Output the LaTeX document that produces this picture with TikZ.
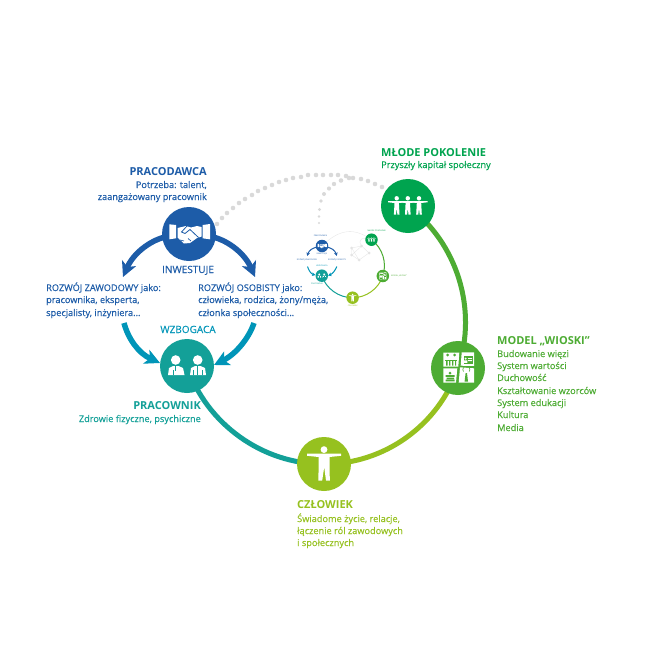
\documentclass[tikz,border=0pt]{standalone}
\usepackage{fontspec}
\setmainfont{Open Sans}
\newfontfamily\semi[FakeBold=0.25]{Open Sans}
\usetikzlibrary{arrows.meta,backgrounds}
\definecolor{cblue}{HTML}{1D5CA8}
\definecolor{ccyan}{HTML}{0095B8}
\definecolor{cteal}{HTML}{13A098}
\definecolor{clime}{HTML}{96C11F}
\definecolor{cgreen}{HTML}{4DAC33}
\definecolor{cdeep}{HTML}{00A44F}
\definecolor{cdot}{HTML}{D9D9D9}
\definecolor{cfaint}{HTML}{E4E4E4}
\tikzset{
 hub/.style={circle,minimum size=54pt,inner sep=0pt,fill=#1},
 minihub/.style={circle,minimum size=12.5pt,inner sep=0pt,fill=#1},
 ring/.style={line width=5pt,draw=#1},
 miniring/.style={line width=1pt,draw=#1},
 big/.style={bend left=36,looseness=.93},
 txt/.style={inner sep=0pt,anchor=base west,font=\semi\fontsize{9.2}{11}\selectfont,text=#1},
 txtr/.style={inner sep=0pt,anchor=base east,font=\semi\fontsize{9.2}{11}\selectfont,text=#1},
 ttl/.style={inner sep=0pt,anchor=base west,font=\fontsize{11}{13}\selectfont\bfseries,text=#1},
 ttlr/.style={inner sep=0pt,anchor=base east,font=\fontsize{11}{13}\selectfont\bfseries,text=#1},
 verb/.style={inner sep=0pt,anchor=base,font=\semi\fontsize{10}{12}\selectfont,text=#1},
 tiny/.style={inner sep=0pt,font=\fontsize{2}{2.4}\selectfont,text=#1},
 flow/.style={line width=5.5pt,draw=#1,-{Stealth[length=15pt,width=15pt,inset=4pt]}},
 miniflow/.style={line width=1pt,draw=#1,-{Stealth[length=3.5pt,width=3.5pt,inset=1pt]}},
 faint/.style={draw=cfaint,line width=.3pt},
}
% icons in picture pixel coordinates; #1 = scale of stroke widths
\newcommand{\iconshake}[1]{
 \fill[white] (169.3,224.3)--(176,225)--(176,238.3)--(169.3,239.3)--cycle;
 \fill[white] (202.7,225)--(210,224)--(210,239.3)--(202.7,238.3)--cycle;
 \fill[white] (177.5,228)--(186,226)--(191,227.5)--(197,226)--(201.5,227)--(201.5,236.5)--(197,238)--(190,243)--(184,243.5)--(177.5,237.5)--cycle;
 \draw[cblue,line width=#1*.8pt] (187,226)--(181.5,232)--(185,233.5)--(190,229.5)--(198.5,237.5);
 \draw[cblue,line width=#1*.7pt] (180,240)--(184,241) (188,238.5)--(191,241);
}
\newcommand{\iconpeople}[1]{
 \fill[white] (175.7,360) circle[radius=4.8];
 \fill[white] (197.7,360) circle[radius=4.8];
 \fill[white] (168,375)--(169,368)--(173,366)--(178.5,366)--(183,368)--(184.5,375)--cycle;
 \fill[white] (190,375)--(191,368)--(195,366)--(200.5,366)--(205,368)--(206,375)--cycle;
 \draw[cteal,line width=#1*.7pt] (175.7,366)--(175.7,371) (197.7,366)--(197.7,375) (173,375)--(173,370) (193.5,375)--(193.5,370) (202,375)--(202,370);
}
\newcommand{\iconchild}[1]{
 \fill[white] (#1,198.3) circle[radius=2.2];
 \fill[white] (#1-8.5,201.2)--(#1+8.5,201.2)--(#1+8.5,202.3)--(#1+2.2,203)--(#1+2.8,214.5)--(#1+.7,214.5)--(#1,208)--(#1-.7,214.5)--(#1-2.8,214.5)--(#1-2.2,203)--(#1-8.5,202.3)--cycle;
}
\newcommand{\iconman}{
 \fill[white] (324,449.6) circle[radius=3.4];
 \fill[white] (307,453.6)--(341,453.6)--(341,455.8)--(329.5,457)--(329.8,480.5)--(326,480.5)--(324.2,467)--(322.2,480.5)--(318.4,480.5)--(318.7,457)--(307,455.8)--cycle;
}
\newcommand{\iconmodel}[1]{
 \fill[white] (443.3,352.7)--(459.3,352.7)--(458.3,366.7)--(443.3,366.7)--cycle;
 \fill[white] (461.7,352.3)--(474,352.3)--(474,366)--(460.7,365.7)--cycle;
 \fill[white] (443.3,368.3)--(457.3,368.3)--(456,382.7)--(443.3,382.7)--cycle;
 \fill[white] (460,367.3)--(474,368.3)--(474,382.7)--(458.7,382.7)--cycle;
 \fill[cgreen] (447.5,355) circle[radius=1.5] (454.5,355) circle[radius=1.5];
 \fill[cgreen] (445,359.5) rectangle (457,361);
 \fill[cgreen] (446,361) rectangle (447.5,365.5) (449,361) rectangle (450.3,365.5) (452,361) rectangle (453.3,365.5) (455,361) rectangle (456.2,365.5);
 \fill[cgreen] (463.5,356) rectangle (472.5,363.5);
 \fill[white] (465.6,358.6) circle[radius=1.1] (463.9,362.9) rectangle (467.3,360.4);
 \fill[white] (468.2,358) rectangle (472,358.8) (468.2,360.2) rectangle (472,361);
 \fill[cgreen] (450,373) circle[radius=1.5];
 \fill[cgreen] (445.5,375) rectangle (454.5,376.8) (446.5,377.5) rectangle (454,379) (445.5,379.7) rectangle (454.5,381.3);
 \fill[cgreen] (465.6,373)--(467,373)--(468,381.5)--(464.6,381.5)--cycle;
 \draw[cgreen,line width=#1*.6pt] (463.5,371.5) arc[start angle=140,end angle=220,radius=3] (469.2,371.5) arc[start angle=40,end angle=-40,radius=3];
}
\begin{document}
\begin{tikzpicture}[x=1pt,y=-1pt]
\useasboundingbox (0,0) rectangle (648,648);
% ---- main hubs
\node[hub=cblue] (prac) at (189,234) {};
\node[hub=cteal] (worker) at (187,366) {};
\node[hub=clime] (man) at (324,464) {};
\node[hub=cgreen] (model) at (458,368) {};
\node[hub=cdeep] (young) at (408,206) {};
\coordinate (zawod) at (123,277);
\coordinate (osob) at (255,277);
\coordinate (zawodB) at (124,323);
\coordinate (osobB) at (254,323);
\coordinate (workL) at (160,363);
\coordinate (workR) at (214,365);
\begin{scope}[on background layer]
 \fill[white] (0,0) rectangle (648,648);
 \draw[ring=cgreen] (young.center) to[big] (model.center);
 \draw[ring=clime] (model.center) to[big] (man.center);
 \draw[ring=cteal] (man.center) to[big] (worker.center);
\end{scope}
% ---- flow arrows
\draw[flow=cblue] (prac.center) ++(-24,3) .. controls (149,241) and (133,254) .. (zawod);
\draw[flow=cblue] (prac.center) ++(24,3) .. controls (229,241) and (245,254) .. (osob);
\draw[flow=ccyan] (zawodB) .. controls (128,338) and (138,353) .. (workL);
\draw[flow=ccyan] (osobB) .. controls (249,338) and (236,354) .. (workR);
% ---- dots
\foreach \x/\y/\r in {217/224/2.3,222/218/2.3,227/213/2.3,233/208/2.3,239/203/2.3,245/199/2.3,252/195/2.3,258/191/2.3,265/188/2.3,272/185/2.3,279/182/2.3,286/180/2.3,293/178/2.3,301/177/2.3,308/175/2.3,316/175/2.3,323/175/2.3,331/175/2.3,338/175/2.3,346/176/2.3,353/178/2.3,361/179/2.3,368/181/2.3,375/184/2.3,382/187/2.3,
 319/223/1.2,319/216.5/1.4,319.5/209.5/1.6,321/201/1.8,324/194/2,329/188.5/2.1,334/184/2.2,341/180.5/2.3,349/178/2.3}
  \fill[cdot] (\x,\y) circle[radius=\r];
% ---- icons
\iconshake{1}
\iconpeople{1}
\iconchild{396.7}\iconchild{407.8}\iconchild{419}
\iconman
\iconmodel{1}
% ---- texts
\node[ttlr=cblue] (t1) at (207,175) {PRACODAWCA};
\node[txtr=cblue] (t2) at (207,188) {Potrzeba: talent,};
\node[txtr=cblue] (t3) at (207,200) {zaangażowany pracownik};
\node[verb=cblue] (t4) at (188,273) {INWESTUJE};
\node[txt=cblue] (z1) at (46,291) {ROZWÓJ ZAWODOWY jako:};
\node[txt=cblue] (z2) at (46,303) {pracownika, eksperta,};
\node[txt=cblue] (z3) at (46,316) {specjalisty, inżyniera...};
\node[txt=cblue] (o1) at (198,291) {ROZWÓJ OSOBISTY jako:};
\node[txt=cblue] (o2) at (198,303) {człowieka, rodzica, żony/męża,};
\node[txt=cblue] (o3) at (198,316) {członka społeczności…};
\node[verb=ccyan] (t5) at (188,333) {WZBOGACA};
\node[ttlr=cteal] (w1) at (201,409) {PRACOWNIK};
\node[txtr=cteal] (w2) at (201,422) {Zdrowie fizyczne, psychiczne};
\node[ttl=clime] (c1) at (297,508) {CZŁOWIEK};
\node[txt=clime] (c2) at (297,522) {Świadome życie, relacje,};
\node[txt=clime] (c3) at (297,534) {łączenie ról zawodowych};
\node[txt=clime] (c4) at (297,546) {i społecznych};
\node[ttl=cdeep] (y1) at (381,156) {MŁODE POKOLENIE};
\node[txt=cdeep] (y2) at (381,168) {Przyszły kapitał społeczny};
\node[ttl=cgreen] (m0) at (497,344) {MODEL „WIOSKI”};
\node[txt=cgreen] (m1) at (497,357) {Budowanie więzi};
\node[txt=cgreen] (m2) at (497,369) {System wartości};
\node[txt=cgreen] (m3) at (497,381) {Duchowość};
\node[txt=cgreen] (m4) at (497,394) {Kształtowanie wzorców};
\node[txt=cgreen] (m5) at (497,406) {System edukacji};
\node[txt=cgreen] (m6) at (497,418) {Kultura};
\node[txt=cgreen] (m7) at (497,431) {Media};
% ---- inset copy
\coordinate (n1) at (351.7,248);
\coordinate (n2) at (351.7,255);
\coordinate (n3) at (359,260);
\coordinate (n4) at (361.7,246);
\coordinate (n5) at (369,253);
\node[minihub=cblue] (iprac) at (322,246) {};
\node[minihub=cteal] (iworker) at (321.8,275.7) {};
\node[minihub=clime] (iman) at (352.6,297.7) {};
\node[minihub=cgreen] (imodel) at (382.8,276) {};
\node[minihub=cdeep] (iyoung) at (371.5,239.7) {};
\begin{scope}[on background layer]
 \draw[miniring=cgreen] (iyoung.center) to[big] (imodel.center);
 \draw[miniring=clime] (imodel.center) to[big] (iman.center);
 \draw[miniring=cteal] (iman.center) to[big] (iworker.center);
 \draw[faint] (iprac.center) .. controls (340,228) and (355,228) .. (iyoung.center);
 \draw[faint] (n4) .. controls (357,240) and (362,236) .. (iyoung.center);
 \draw[faint] (n1) -- (n2) -- (n3) -- (n5) -- (n4) -- (n1) (n2) -- (n4) (n3) -- (n1);
\end{scope}
\foreach \c in {n1,n2,n3,n4,n5} \fill[cfaint] (\c) circle[radius=1.5];
\coordinate (izL) at (307.2,256);
\coordinate (izR) at (336.8,256);
\coordinate (izLb) at (307.5,266.5);
\coordinate (izRb) at (336.8,266.5);
\coordinate (iwL) at (315.5,275);
\coordinate (iwR) at (328,275.5);
\draw[miniflow=cblue] (iprac.center) ++(-5,1) .. controls (313,248) and (309,250) .. (izL);
\draw[miniflow=cblue] (iprac.center) ++(5,1) .. controls (331,248) and (335,250) .. (izR);
\draw[miniflow=ccyan] (izLb) .. controls (308.5,270) and (311,274) .. (iwL);
\draw[miniflow=ccyan] (izRb) .. controls (335.5,270) and (332.5,274) .. (iwR);
\begin{scope}[shift={(322,246)},scale=.225,shift={(-188.5,-234)}]
 \iconshake{.225}
\end{scope}
\begin{scope}[shift={(321.8,275.7)},scale=.225,shift={(-187,-366)}]
 \iconpeople{.225}
\end{scope}
\begin{scope}[shift={(352.6,297.7)},scale=.225,shift={(-324,-464)}]
 \iconman
\end{scope}
\begin{scope}[shift={(382.8,276)},scale=.225,shift={(-458,-368)}]
 \iconmodel{.225}
\end{scope}
\begin{scope}[shift={(371.5,239.7)},scale=.225,shift={(-408,-206)}]
 \iconchild{396.7}\iconchild{407.8}\iconchild{419}
\end{scope}
\node[tiny=cblue] (l1) at (320.5,236) {PRACODAWCA};
\node[tiny=cblue] (l2) at (321.7,253.8) {INWESTUJE};
\node[tiny=cblue] (l3) at (307,260) {ROZWÓJ ZAWODOWY};
\node[tiny=cblue] (l4) at (337,260) {ROZWÓJ OSOBISTY};
\node[tiny=ccyan] (l5) at (322,266) {WZBOGACA};
\node[tiny=cteal] (l6) at (317,283.5) {PRACOWNIK};
\node[tiny=clime] (l7) at (352.7,306) {CZŁOWIEK};
\node[tiny=cdeep] (l8) at (376.7,230.7) {MŁODE POKOLENIE};
\node[tiny=cgreen,anchor=west] (l9) at (391,276) {MODEL „WIOSKI”};
\end{tikzpicture}
\end{document}
